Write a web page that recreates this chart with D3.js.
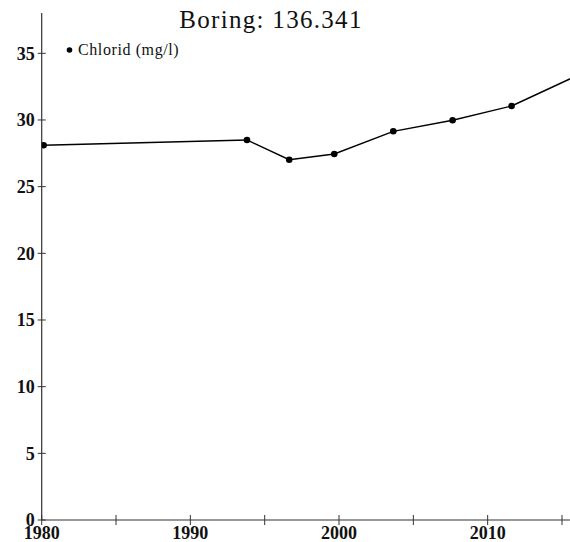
<!DOCTYPE html>
<html>
<head>
<meta charset="utf-8">
<script src="https://cdn.jsdelivr.net/npm/d3@7"></script>
<style>
  html, body { margin: 0; padding: 0; background: #fff; }
  svg { display: block; }
</style>
</head>
<body>
<svg id="chart" width="570" height="542"></svg>
<script>
// Chloride measurements for well 136.341 (decimal year, mg/l)
const years = [1980.13, 1993.81, 1996.65, 1999.68, 2003.65, 2007.64, 2011.61, 2016.5];
const chlorid = [28.1, 28.5, 27.02, 27.45, 29.15, 29.98, 31.05, 33.58];
const xTicks = [1980, 1985, 1990, 1995, 2000, 2005, 2010, 2015];
const xTickLabels = ["1980", "", "1990", "", "2000", "", "2010", ""];
const yTicks = [0, 5, 10, 15, 20, 25, 30, 35];
const title = "Boring: 136.341";
const seriesName = "Chlorid (mg/l)";

const svg = d3.select("#chart");
const plotLeft = 41.7, plotRight = 570, plotTop = 13, plotBottom = 520;

const x = d3.scaleLinear().domain([1980, 2015]).range([plotLeft, 562]);
const y = d3.scaleLinear().domain([0, 35]).range([plotBottom, 53.3]);

svg.append("defs").append("clipPath").attr("id", "plot")
  .append("rect").attr("x", plotLeft).attr("y", 0)
  .attr("width", plotRight - plotLeft).attr("height", plotBottom);

const serif = "'Liberation Serif', 'DejaVu Serif', serif";

// y axis
svg.append("line").attr("x1", plotLeft).attr("x2", plotLeft).attr("y1", plotTop).attr("y2", plotBottom)
  .attr("stroke", "#333").attr("stroke-width", 1.2);
const yt = svg.append("g");
yTicks.forEach(v => {
  yt.append("line").attr("x1", plotLeft - 4).attr("x2", plotLeft + 4)
    .attr("y1", y(v)).attr("y2", y(v)).attr("stroke", "#333").attr("stroke-width", 1);
  yt.append("text").attr("x", plotLeft - 7).attr("y", y(v)).attr("dy", "0.35em")
    .attr("text-anchor", "end").attr("font-family", serif).attr("font-weight", "bold")
    .attr("font-size", 18).attr("fill", "#111").text(v);
});

// x axis
svg.append("line").attr("x1", plotLeft).attr("x2", plotRight).attr("y1", plotBottom).attr("y2", plotBottom)
  .attr("stroke", "#333").attr("stroke-width", 1.2);
const xt = svg.append("g");
xTicks.forEach((v, i) => {
  xt.append("line").attr("x1", x(v)).attr("x2", x(v))
    .attr("y1", plotBottom - 5).attr("y2", plotBottom + 5).attr("stroke", "#333").attr("stroke-width", 1);
  if (xTickLabels[i]) {
    xt.append("text").attr("x", x(v)).attr("y", 539)
      .attr("text-anchor", "middle").attr("font-family", serif).attr("font-weight", "bold")
      .attr("font-size", 18).attr("fill", "#111").text(xTickLabels[i]);
  }
});

// series
const data = years.map((yr, i) => ({ yr, v: chlorid[i] }));
const g = svg.append("g").attr("clip-path", "url(#plot)");
g.append("path").datum(data)
  .attr("d", d3.line().x(d => x(d.yr)).y(d => y(d.v)))
  .attr("fill", "none").attr("stroke", "#000").attr("stroke-width", 1.4);
g.selectAll("circle").data(data).join("circle")
  .attr("cx", d => x(d.yr)).attr("cy", d => y(d.v)).attr("r", 3.3).attr("fill", "#000");

// title
svg.append("text").attr("x", 271).attr("y", 28).attr("text-anchor", "middle")
  .attr("font-family", serif).attr("font-size", 25).attr("letter-spacing", 1.3)
  .attr("fill", "#111").text(title);

// legend
svg.append("circle").attr("cx", 69.5).attr("cy", 50).attr("r", 2.8).attr("fill", "#000");
svg.append("text").attr("x", 78).attr("y", 55).attr("font-family", serif)
  .attr("font-size", 16).attr("letter-spacing", 0.6).attr("fill", "#111").text(seriesName);
</script>
</body>
</html>
